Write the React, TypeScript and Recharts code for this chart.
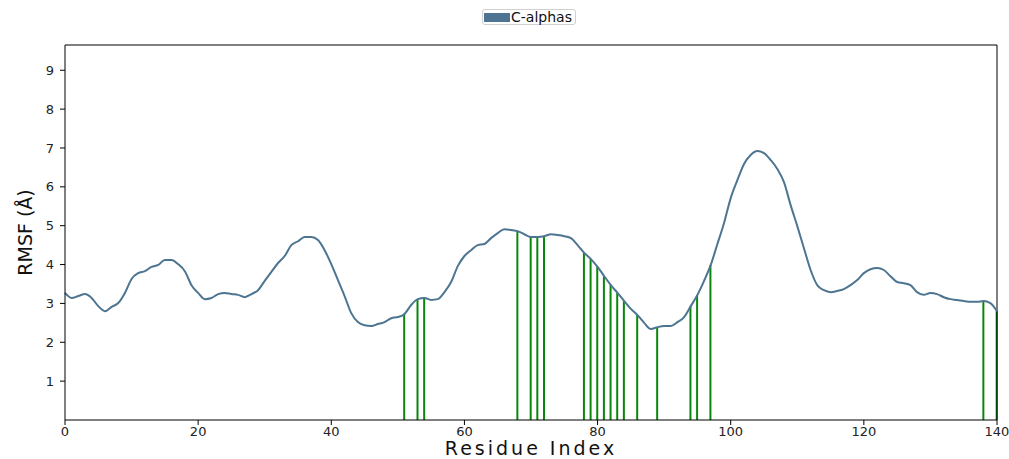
import {Bar, ComposedChart, Legend, Line, ReferenceLine, XAxis, YAxis} from "recharts";

// RMSF per residue, index 0..140
const rmsf: number[] = [
    3.27, 3.14, 3.19, 3.24, 3.14, 2.93, 2.80, 2.91, 3.01, 3.27,
    3.63, 3.78, 3.83, 3.94, 3.99, 4.12, 4.12, 4.01, 3.83, 3.47,
    3.27, 3.11, 3.14, 3.24, 3.27, 3.24, 3.22, 3.16, 3.24, 3.34,
    3.58, 3.81, 4.04, 4.22, 4.50, 4.60, 4.71, 4.71, 4.63, 4.37,
    4.01, 3.60, 3.19, 2.75, 2.52, 2.44, 2.42, 2.47, 2.52, 2.62,
    2.65, 2.73, 2.96, 3.11, 3.14, 3.09, 3.11, 3.29, 3.55, 3.96,
    4.22, 4.37, 4.50, 4.53, 4.68, 4.81, 4.91, 4.89, 4.86, 4.78,
    4.71, 4.71, 4.73, 4.78, 4.76, 4.73, 4.68, 4.50, 4.30, 4.14,
    3.94, 3.70, 3.47, 3.27, 3.06, 2.86, 2.70, 2.50, 2.34, 2.39,
    2.42, 2.42, 2.52, 2.65, 2.93, 3.22, 3.58, 3.99, 4.53, 5.07,
    5.71, 6.17, 6.59, 6.82, 6.92, 6.87, 6.69, 6.46, 6.12, 5.53,
    4.99, 4.42, 3.86, 3.47, 3.34, 3.29, 3.32, 3.37, 3.47, 3.60,
    3.78, 3.88, 3.91, 3.86, 3.70, 3.55, 3.52, 3.47, 3.29, 3.22,
    3.27, 3.24, 3.16, 3.11, 3.09, 3.06, 3.04, 3.04, 3.06, 3.01,
    2.80,
];

// residues marked with green lines
const contactResidues = [51, 53, 54, 68, 70, 71, 72, 78, 79, 80, 81, 82, 83, 84, 86, 89, 94, 95, 97, 138, 140];

const xTicks = [0, 20, 40, 60, 80, 100, 120, 140];
const yTicks = [1, 2, 3, 4, 5, 6, 7, 8, 9];

const data = rmsf.map((v, i) => ({
    residue: i,
    rmsf: v,
    contact: contactResidues.includes(i) ? v : null,
}));

const tickStyle = {fontSize: 13, fill: "#222", fontFamily: "DejaVu Sans"};

const LegendBox = () => (
    <div style={{
        display: "flex", alignItems: "center", border: "1px solid #d0d0d0", borderRadius: 3,
        padding: "0 3px 0 1px", background: "#fff", fontFamily: "DejaVu Sans", fontSize: 14,
        lineHeight: "14px", color: "#111",
    }}>
        <span style={{display: "inline-block", width: 26, height: 9, background: "#4d7591", marginRight: 1}}/>
        <span>C-alphas</span>
    </div>
);

const App = (): React.JSX.Element => {
    return (
        <div style={{position: "absolute", left: 0, top: 0, width: 1009, height: 459}}>
            <ComposedChart data={data} width={1009} height={459} margin={{top: 29, right: 12, bottom: 1, left: 15}}>
                <XAxis dataKey="residue" type="number" domain={[0, 140]} ticks={xTicks} tickSize={5} tickMargin={2}
                       tick={tickStyle} stroke="#000" height={38} allowDecimals={false}
                       label={{value: "Residue Index", position: "insideBottom", offset: 3,
                           style: {fontSize: 19, fill: "#111", fontFamily: "DejaVu Sans", letterSpacing: 3}}}/>
                <YAxis type="number" domain={[0, 9.65]} ticks={yTicks} tickSize={5} tickMargin={6}
                       tick={tickStyle} stroke="#000" width={50}
                       label={{value: "RMSF (Å)", angle: -90, position: "insideLeft", offset: 10,
                           style: {fontSize: 19, fill: "#111", fontFamily: "DejaVu Sans", textAnchor: "middle"}}}/>
                <ReferenceLine y={9.65} stroke="#000"/>
                <ReferenceLine x={140} stroke="#000"/>
                <Legend verticalAlign="top" content={() => <LegendBox/>}
                        wrapperStyle={{top: 9, left: 482, width: "auto"}}/>
                <Bar dataKey="contact" barSize={2} fill="#0a870a" isAnimationActive={false} legendType="none"/>
                <Line dataKey="rmsf" type="monotone" stroke="#4d7591" strokeWidth={2} dot={false}
                      isAnimationActive={false} name="C-alphas"/>
            </ComposedChart>
        </div>
    );
};

export default App;
